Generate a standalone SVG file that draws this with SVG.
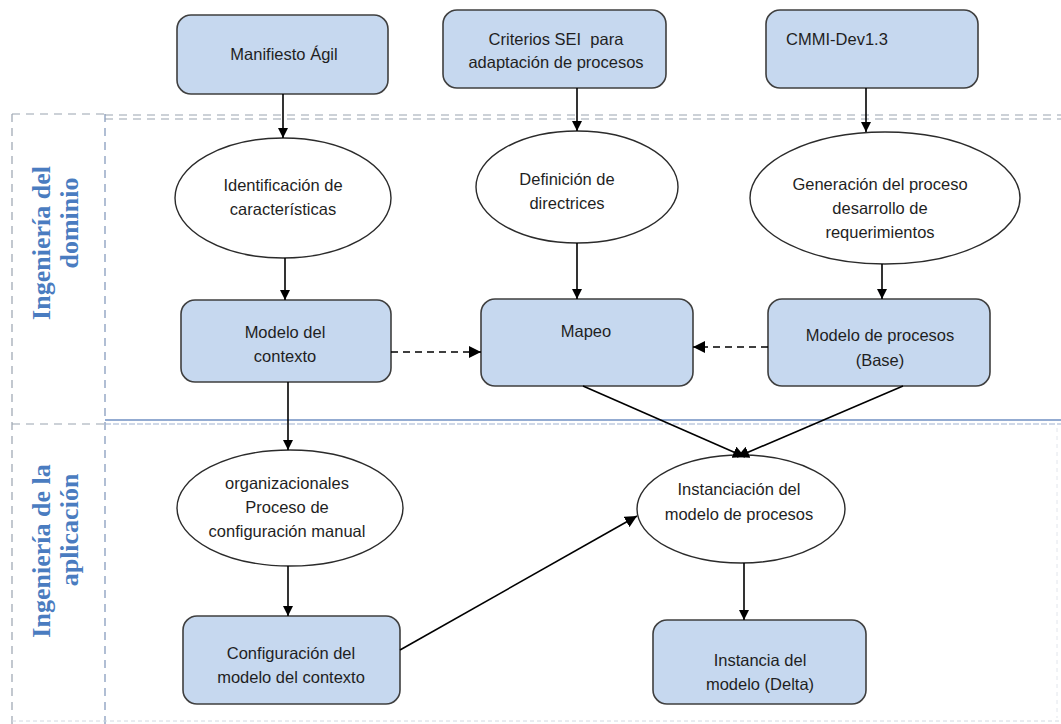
<svg xmlns="http://www.w3.org/2000/svg" width="1061" height="724" viewBox="0 0 1061 724">
  <defs>
    <marker id="arrow" viewBox="0 0 10 10" refX="10" refY="5" markerWidth="10" markerHeight="10" markerUnits="userSpaceOnUse" orient="auto">
      <path d="M0,0 L10,5 L0,10 z" fill="#000"/>
    </marker>
    <marker id="arrowL" viewBox="0 0 12 12" refX="12" refY="6" markerWidth="12" markerHeight="12" markerUnits="userSpaceOnUse" orient="auto">
      <path d="M0,0 L12,6 L0,12 z" fill="#000"/>
    </marker>
  </defs>
  <style>
    .box { fill: #c6d8ef; stroke: #3f3f3f; stroke-width: 1.6; }
    .oval { fill: #ffffff; stroke: #2b2b2b; stroke-width: 1.4; }
    .t { font-family: "Liberation Sans", Arial, sans-serif; font-size: 16.5px; fill: #1f1f1f; text-anchor: middle; }
    .lane { font-family: "Liberation Serif", "Times New Roman", serif; font-size: 26px; font-weight: bold; fill: #4a7cc0; text-anchor: middle; }
    .edge { stroke: #000; stroke-width: 1.6; fill: none; }
    .dash { stroke: #000; stroke-width: 1.6; fill: none; stroke-dasharray: 7 5; }
    .lanegray { stroke: #9aa3b0; stroke-width: 1.2; fill: none; stroke-dasharray: 8 6; }
    .laneblue { stroke: #7d93b8; stroke-width: 1.2; fill: none; stroke-dasharray: 8 6; }
  </style>

  <rect width="1061" height="724" fill="#ffffff"/>

  <!-- swimlane frame -->
  <g id="lanes">
    <path class="lanegray" d="M12,114 H105"/>
    <path class="lanegray" d="M12,114 V724"/>
    <path class="laneblue" d="M105,114 V724"/>
    <path class="lanegray" d="M105,115 H1061"/>
    <path class="lanegray" d="M105,119 H1061"/>
    <path class="lanegray" d="M12,424 H105"/>
    <path d="M105,420 H1061" stroke="#6f8fc2" stroke-width="1.4" fill="none"/>
    <path d="M105,424 H1061" stroke="#9fb1cf" stroke-width="1.2" fill="none" stroke-dasharray="6 2"/>
    <path d="M1057,428 V718" stroke="#e2e6ec" stroke-width="1" fill="none" stroke-dasharray="4 4"/>
    <path d="M12,721 H1061" stroke="#d2d8e2" stroke-width="1" fill="none" stroke-dasharray="4 3"/>
    <text class="lane" transform="translate(50,243) rotate(-90)">Ingeniería del</text>
    <text class="lane" transform="translate(78,223) rotate(-90)">dominio</text>
    <text class="lane" transform="translate(50,551) rotate(-90)">Ingeniería de la</text>
    <text class="lane" transform="translate(78,530) rotate(-90)">aplicación</text>
  </g>

  <g id="manifiesto">
    <rect class="box" x="177" y="15" width="211" height="79" rx="14"/>
    <text class="t" x="284" y="60">Manifiesto Ágil</text>
  </g>
  <g id="criterios">
    <rect class="box" x="443" y="10" width="223" height="78" rx="14"/>
    <text class="t" x="556" y="45" xml:space="preserve">Criterios SEI  para</text>
    <text class="t" x="556" y="68">adaptación de procesos</text>
  </g>
  <g id="cmmi">
    <rect class="box" x="766" y="10" width="212" height="78" rx="14"/>
    <text class="t" x="837" y="45">CMMI-Dev1.3</text>
  </g>

  <g id="identificacion">
    <ellipse class="oval" cx="283" cy="198" rx="108" ry="60"/>
    <text class="t" x="283" y="191">Identificación de</text>
    <text class="t" x="283" y="215">características</text>
  </g>
  <g id="definicion">
    <ellipse class="oval" cx="577" cy="187" rx="101" ry="56"/>
    <text class="t" x="567" y="185">Definición de</text>
    <text class="t" x="567" y="209">directrices</text>
  </g>
  <g id="generacion">
    <ellipse class="oval" cx="885" cy="198" rx="135" ry="66"/>
    <text class="t" x="880" y="190">Generación del proceso</text>
    <text class="t" x="880" y="214">desarrollo de</text>
    <text class="t" x="880" y="238">requerimientos</text>
  </g>

  <g id="modelo-contexto">
    <rect class="box" x="181" y="300" width="210" height="82" rx="14"/>
    <text class="t" x="285" y="338">Modelo del</text>
    <text class="t" x="285" y="362">contexto</text>
  </g>
  <g id="mapeo">
    <rect class="box" x="481" y="299" width="212" height="87" rx="14"/>
    <text class="t" x="586" y="337">Mapeo</text>
  </g>
  <g id="modelo-procesos">
    <rect class="box" x="768" y="299" width="222" height="87" rx="14"/>
    <text class="t" x="880" y="341">Modelo de procesos</text>
    <text class="t" x="880" y="366">(Base)</text>
  </g>

  <g id="configuracion-manual">
    <ellipse class="oval" cx="290" cy="508" rx="113" ry="58"/>
    <text class="t" x="287" y="489">organizacionales</text>
    <text class="t" x="287" y="513">Proceso de</text>
    <text class="t" x="287" y="537">configuración manual</text>
  </g>
  <g id="instanciacion">
    <ellipse class="oval" cx="741" cy="509" rx="104" ry="54"/>
    <text class="t" x="739" y="495">Instanciación del</text>
    <text class="t" x="739" y="520">modelo de procesos</text>
  </g>

  <g id="configuracion-modelo">
    <rect class="box" x="183" y="616" width="217" height="88" rx="14"/>
    <text class="t" x="291" y="659">Configuración del</text>
    <text class="t" x="291" y="683">modelo del contexto</text>
  </g>
  <g id="instancia">
    <rect class="box" x="653" y="620" width="213" height="84" rx="14"/>
    <text class="t" x="760" y="666">Instancia del</text>
    <text class="t" x="760" y="690">modelo (Delta)</text>
  </g>

  <!-- connectors -->
  <g id="connectors">
    <path class="edge" d="M283,94 V138" marker-end="url(#arrow)"/>
    <path class="edge" d="M577,88 V131" marker-end="url(#arrow)"/>
    <path class="edge" d="M866,88 V132" marker-end="url(#arrow)"/>
    <path class="edge" d="M285,258 V300" marker-end="url(#arrow)"/>
    <path class="edge" d="M577,243 V299" marker-end="url(#arrow)"/>
    <path class="edge" d="M882,264 V299" marker-end="url(#arrow)"/>
    <path class="dash" d="M391,352 H481" marker-end="url(#arrowL)"/>
    <path class="dash" d="M768,347 H693" marker-end="url(#arrowL)"/>
    <path class="edge" d="M288,382 V450" marker-end="url(#arrow)"/>
    <path class="edge" d="M583,386 L745,457" marker-end="url(#arrowL)"/>
    <path class="edge" d="M903,386 L737,457" marker-end="url(#arrowL)"/>
    <path class="edge" d="M288,566 V616" marker-end="url(#arrow)"/>
    <path class="edge" d="M400,650 L637,516" marker-end="url(#arrowL)"/>
    <path class="edge" d="M744,563 V620" marker-end="url(#arrow)"/>
  </g>
</svg>
